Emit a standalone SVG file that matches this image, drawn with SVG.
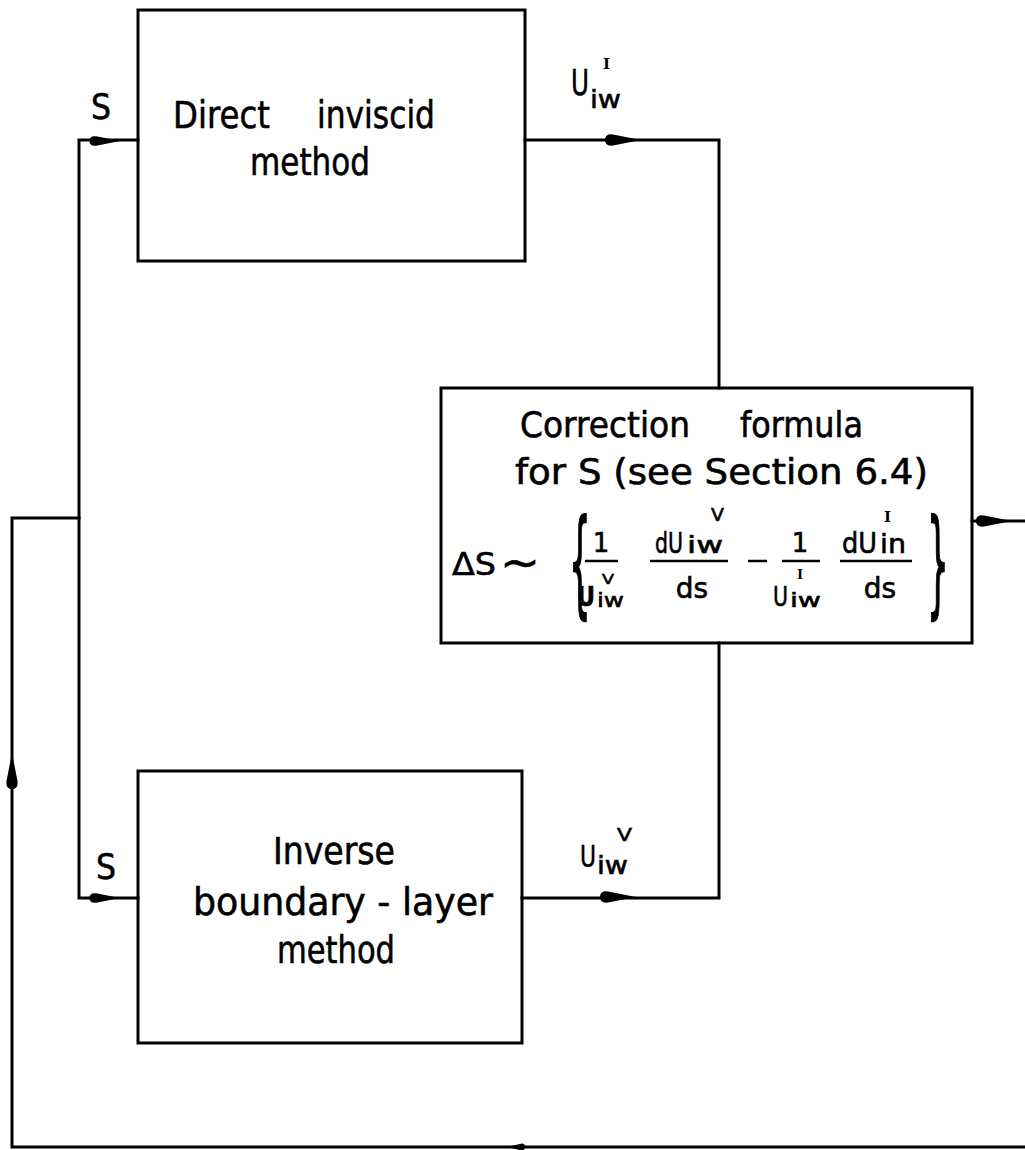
<svg xmlns="http://www.w3.org/2000/svg" width="1025" height="1150" viewBox="0 0 1025 1150">
<style>
.box{fill:none;stroke:#000;stroke-width:3}
.ln{fill:none;stroke:#000;stroke-width:3;stroke-linecap:square}
.t{font-family:"DejaVu Sans","Liberation Sans",sans-serif;fill:#000;stroke:#000;stroke-width:0.6}
.r{font-family:"DejaVu Serif","Liberation Serif",serif;font-weight:bold;stroke-width:0}
.bar{stroke:#000;stroke-width:2.5}
</style>
<defs>
<path id="ah" d="M0,0 L-28,-5.5 Q-36,-6.5 -36,0 Q-36,6.5 -28,5.5 Z" fill="#000"/>
</defs>
<rect width="1025" height="1150" fill="#fff"/>

<g id="connectors">
<polyline class="ln" points="1025,1147 12,1147 12,518 79,518"/>
<polyline class="ln" points="138,140 79,140 79,898 138,898"/>
<polyline class="ln" points="525,140 719,140 719,388"/>
<polyline class="ln" points="522,898 719,898 719,643"/>
<line class="ln" x1="972" y1="521" x2="1025" y2="521"/>
<use href="#ah" transform="translate(120,141) scale(0.85)"/>
<use href="#ah" transform="translate(120,898) scale(0.85)"/>
<use href="#ah" transform="translate(641,140)"/>
<use href="#ah" transform="translate(636,897)"/>
<use href="#ah" transform="translate(1012,521)"/>
<use href="#ah" transform="translate(12,753) rotate(-90)"/>
<use href="#ah" transform="translate(507,1147) rotate(180) scale(0.5,0.6)"/>
<text class="t" x="91" y="119" font-size="35" textLength="20" lengthAdjust="spacingAndGlyphs">S</text>
<text class="t" x="96" y="879" font-size="35" textLength="20" lengthAdjust="spacingAndGlyphs">S</text>
<text class="t"><tspan x="571" y="95" font-size="35" textLength="18" lengthAdjust="spacingAndGlyphs">U</tspan><tspan x="590" y="108" font-size="25" textLength="31" lengthAdjust="spacingAndGlyphs">iw</tspan><tspan class="r" x="603" y="69" font-size="15">I</tspan></text>
<text class="t"><tspan x="580" y="867" font-size="31" textLength="16" lengthAdjust="spacingAndGlyphs">U</tspan><tspan x="597" y="874" font-size="24" textLength="31" lengthAdjust="spacingAndGlyphs">iw</tspan><tspan x="617" y="841" font-size="18" textLength="15" lengthAdjust="spacingAndGlyphs">V</tspan></text>
</g>

<g id="direct-inviscid">
<rect class="box" x="138" y="10" width="387" height="251"/>
<text class="t" x="173" y="128" font-size="37" textLength="97" lengthAdjust="spacingAndGlyphs">Direct</text>
<text class="t" x="317" y="128" font-size="37" textLength="118" lengthAdjust="spacingAndGlyphs">inviscid</text>
<text class="t" x="250" y="175" font-size="37" textLength="120" lengthAdjust="spacingAndGlyphs">method</text>
</g>

<g id="inverse-bl">
<rect class="box" x="138" y="771" width="384" height="272"/>
<text class="t" x="273" y="864" font-size="37" textLength="122" lengthAdjust="spacingAndGlyphs">Inverse</text>
<text class="t" x="193" y="915" font-size="37" textLength="300" lengthAdjust="spacingAndGlyphs">boundary - layer</text>
<text class="t" x="277" y="963" font-size="37" textLength="118" lengthAdjust="spacingAndGlyphs">method</text>
</g>

<g id="correction">
<rect class="box" x="441" y="388" width="531" height="255"/>
<text class="t" x="520" y="437" font-size="35" textLength="170" lengthAdjust="spacingAndGlyphs">Correction</text>
<text class="t" x="740" y="437" font-size="35" textLength="123" lengthAdjust="spacingAndGlyphs">formula</text>
<text class="t" x="515" y="484" font-size="35" textLength="413" lengthAdjust="spacingAndGlyphs">for S (see Section 6.4)</text>
<text class="t" x="452" y="575" font-size="32" textLength="44" lengthAdjust="spacingAndGlyphs">ΔS</text>
<text class="t" x="500" y="578" font-size="44" textLength="40" lengthAdjust="spacingAndGlyphs" stroke-width="1.5">~</text>
<text class="t" transform="translate(569,602) scale(1,3.4)" font-size="34">{</text>
<text class="t" transform="translate(927,602) scale(1,3.4)" font-size="34">}</text>
<text class="t" x="601" y="552" font-size="26" text-anchor="middle">1</text>
<line class="bar" x1="585" y1="561" x2="618" y2="561"/>
<text class="t"><tspan x="577" y="606" font-size="27" font-weight="bold" textLength="18" lengthAdjust="spacingAndGlyphs">U</tspan><tspan x="597" y="607" font-size="20" textLength="27" lengthAdjust="spacingAndGlyphs">iw</tspan><tspan x="602" y="584" font-size="14" textLength="12" lengthAdjust="spacingAndGlyphs">V</tspan></text>
<text class="t"><tspan x="655" y="553" font-size="28" textLength="28" lengthAdjust="spacingAndGlyphs">dU</tspan><tspan x="687" y="553" font-size="23" textLength="36" lengthAdjust="spacingAndGlyphs">iw</tspan><tspan x="711" y="521" font-size="17" textLength="13" lengthAdjust="spacingAndGlyphs">V</tspan></text>
<line class="bar" x1="650" y1="561" x2="728" y2="561"/>
<text class="t" x="692" y="598" font-size="28" text-anchor="middle">ds</text>
<line class="bar" x1="748" y1="561" x2="767" y2="561" stroke-width="3.5"/>
<text class="t" x="800" y="552" font-size="26" text-anchor="middle">1</text>
<line class="bar" x1="782" y1="561" x2="820" y2="561"/>
<text class="t"><tspan x="773" y="606" font-size="26" textLength="15" lengthAdjust="spacingAndGlyphs">U</tspan><tspan x="790" y="607" font-size="20" textLength="31" lengthAdjust="spacingAndGlyphs">iw</tspan><tspan class="r" x="797" y="579" font-size="13">I</tspan></text>
<text class="t"><tspan x="842" y="553" font-size="28" textLength="35" lengthAdjust="spacingAndGlyphs">dU</tspan><tspan x="880" y="553" font-size="26" textLength="26" lengthAdjust="spacingAndGlyphs">in</tspan><tspan class="r" x="884" y="522" font-size="15">I</tspan></text>
<line class="bar" x1="840" y1="561" x2="912" y2="561"/>
<text class="t" x="880" y="598" font-size="28" text-anchor="middle">ds</text>
</g>
</svg>
